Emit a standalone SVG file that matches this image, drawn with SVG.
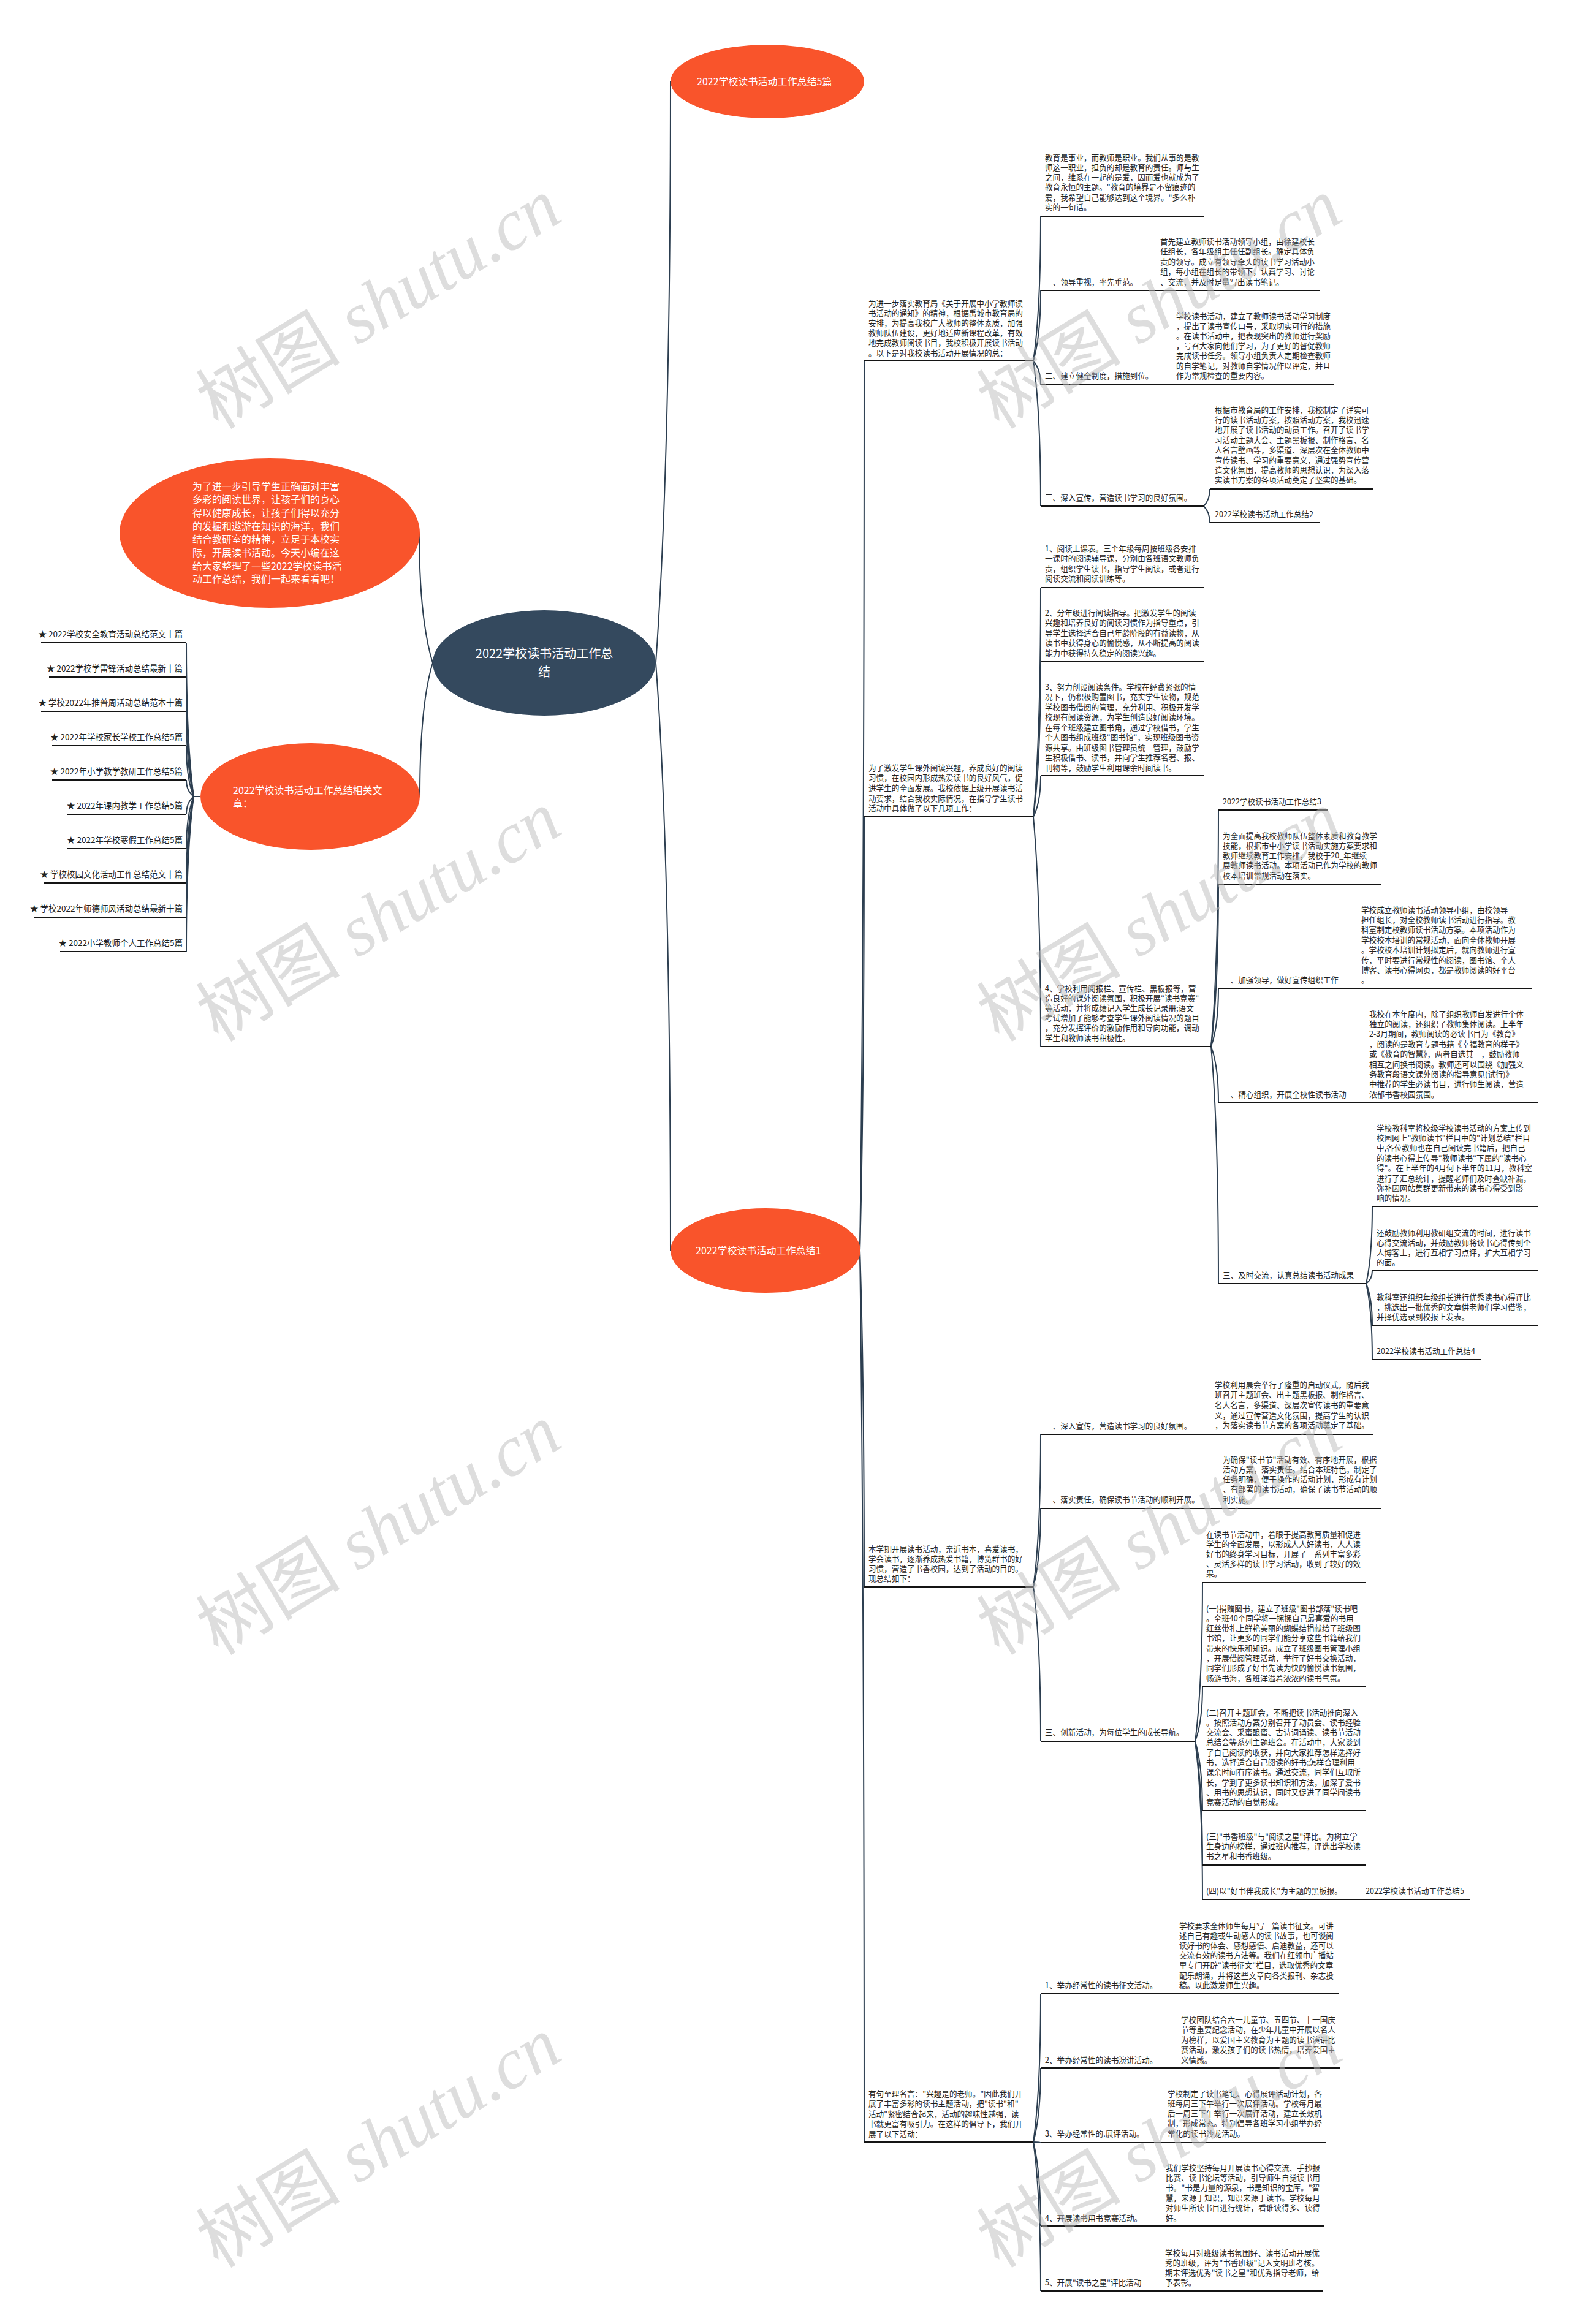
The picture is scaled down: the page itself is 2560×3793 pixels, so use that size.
<svg xmlns="http://www.w3.org/2000/svg" width="2560" height="3793" viewBox="0 0 2560 3793">
<style>
.t{font-family:"Noto Sans CJK SC","Noto Sans",sans-serif;font-size:12.6px;fill:#222}
.li{font-family:"Noto Sans CJK SC","Noto Sans",sans-serif;font-size:13.5px;fill:#222}
.w{font-family:"Noto Sans CJK SC","Noto Sans",sans-serif;fill:#fff}
.ul{stroke:#141414;stroke-width:2;fill:none}
.cn{stroke:#2c3e50;stroke-width:2;fill:none}
.ob{fill:#f9542b}
.wm{fill:#bdbdbd;opacity:0.5}
</style>
<defs>
<g id="wmk"><text class="wm" font-size="118"><tspan font-family="Noto Sans CJK SC,sans-serif">树图</tspan><tspan font-family="Liberation Serif,serif" font-style="italic"> shutu.cn</tspan></text></g>
</defs>
<rect width="2560" height="3793" fill="#fff"/>

<g id="connectors">
<path class="cn" d="M1070,1082 Q1094,750 1094,133"/>
<path class="cn" d="M1070,1082 Q1094,1400 1094,2041"/>
<path class="cn" d="M706,1082 Q684,1010 684,870"/>
<path class="cn" d="M706,1082 Q685,1150 685,1300"/>
<path class="cn" d="M327,1300 L316,1300"/>
<path class="cn" d="M316,1300 Q304,1212 304,1049"/>
<path class="cn" d="M316,1300 Q304,1232 304,1105"/>
<path class="cn" d="M316,1300 Q304,1252 304,1161"/>
<path class="cn" d="M316,1300 Q304,1271 304,1217"/>
<path class="cn" d="M316,1300 Q304,1291 304,1273"/>
<path class="cn" d="M316,1300 Q304,1310 304,1329"/>
<path class="cn" d="M316,1300 Q304,1330 304,1385"/>
<path class="cn" d="M316,1300 Q304,1350 304,1441"/>
<path class="cn" d="M316,1300 Q304,1369 304,1497"/>
<path class="cn" d="M316,1300 Q304,1389 304,1553"/>
<path class="cn" d="M1403,2041 Q1410,1530 1410,589"/>
<path class="cn" d="M1403,2041 Q1410,1790 1410,1333"/>
<path class="cn" d="M1403,2041 Q1410,2240 1410,2590"/>
<path class="cn" d="M1403,2041 Q1410,2560 1410,3496"/>
<path class="cn" d="M1686,589 Q1698,506 1698,353"/>
<path class="cn" d="M1686,589 Q1698,548 1698,474"/>
<path class="cn" d="M1686,589 Q1698,603 1698,628"/>
<path class="cn" d="M1686,589 Q1698,672 1698,826"/>
<path class="cn" d="M1964,826 Q1974,816 1974,798"/>
<path class="cn" d="M1964,826 Q1974,836 1974,853"/>
<path class="cn" d="M1686,1333 Q1698,1202 1698,959"/>
<path class="cn" d="M1686,1333 Q1698,1245 1698,1080"/>
<path class="cn" d="M1686,1333 Q1698,1310 1698,1266"/>
<path class="cn" d="M1686,1333 Q1698,1465 1698,1708"/>
<path class="cn" d="M1976,1708 Q1988,1573 1988,1322"/>
<path class="cn" d="M1976,1708 Q1988,1615 1988,1443"/>
<path class="cn" d="M1976,1708 Q1988,1675 1988,1613"/>
<path class="cn" d="M1976,1708 Q1988,1740 1988,1799"/>
<path class="cn" d="M1976,1708 Q1988,1842 1988,2095"/>
<path class="cn" d="M2229,2095 Q2239,2051 2239,1969"/>
<path class="cn" d="M2229,2095 Q2239,2088 2239,2074"/>
<path class="cn" d="M2229,2095 Q2239,2119 2239,2163"/>
<path class="cn" d="M2229,2095 Q2239,2138 2239,2219"/>
<path class="cn" d="M1686,2590 Q1698,2503 1698,2341"/>
<path class="cn" d="M1686,2590 Q1698,2545 1698,2462"/>
<path class="cn" d="M1686,2590 Q1698,2678 1698,2842"/>
<path class="cn" d="M1950,2842 Q1962,2751 1962,2583"/>
<path class="cn" d="M1950,2842 Q1962,2811 1962,2753"/>
<path class="cn" d="M1950,2842 Q1962,2881 1962,2955"/>
<path class="cn" d="M1950,2842 Q1962,2913 1962,3044"/>
<path class="cn" d="M1950,2842 Q1962,2932 1962,3100"/>
<path class="cn" d="M1686,3496 Q1698,3411 1698,3254"/>
<path class="cn" d="M1686,3496 Q1698,3453 1698,3375"/>
<path class="cn" d="M1686,3496 Q1698,3496 1698,3497"/>
<path class="cn" d="M1686,3496 Q1698,3544 1698,3633"/>
<path class="cn" d="M1686,3496 Q1698,3581 1698,3739"/>
</g>

<g id="root">
<ellipse cx="888" cy="1082" rx="182" ry="86" fill="#34495e"/>
<text class="w" font-size="20" text-anchor="middle" x="888" y="1074">2022学校读书活动工作总<tspan x="888" dy="30">结</tspan></text>
</g>

<g id="top-node">
<ellipse class="ob" cx="1252" cy="133" rx="158" ry="60"/>
<text class="w" font-size="16" x="1137" y="139">2022学校读书活动工作总结5篇</text>
</g>

<g id="node1">
<ellipse class="ob" cx="1249" cy="2041" rx="155" ry="69"/>
<text class="w" font-size="16" x="1135" y="2047">2022学校读书活动工作总结1</text>
</g>

<g id="intro">
<ellipse class="ob" cx="440" cy="870" rx="245" ry="122"/>
<text class="w" font-size="16" x="314" y="799.5"><tspan x="314" dy="0">为了进一步引导学生正确面对丰富</tspan><tspan x="314" dy="21.7">多彩的阅读世界，让孩子们的身心</tspan><tspan x="314" dy="21.7">得以健康成长，让孩子们得以充分</tspan><tspan x="314" dy="21.7">的发掘和遨游在知识的海洋，我们</tspan><tspan x="314" dy="21.7">结合教研室的精神，立足于本校实</tspan><tspan x="314" dy="21.7">际，开展读书活动。今天小编在这</tspan><tspan x="314" dy="21.7">给大家整理了一些2022学校读书活</tspan><tspan x="314" dy="21.7">动工作总结，我们一起来看看吧！</tspan></text>
</g>

<g id="related">
<ellipse class="ob" cx="506" cy="1300" rx="179" ry="87"/>
<text class="w" font-size="16" x="380" y="1295.5">2022学校读书活动工作总结相关文<tspan x="380" dy="21.5">章：</tspan></text>
</g>

<g id="related-list">
<text class="li" text-anchor="end" x="298" y="1039.5">★ 2022学校安全教育活动总结范文十篇</text>
<path class="ul" d="M67,1049 H304"/>
<text class="li" text-anchor="end" x="298" y="1095.5">★ 2022学校学雷锋活动总结最新十篇</text>
<path class="ul" d="M80,1105 H304"/>
<text class="li" text-anchor="end" x="298" y="1151.5">★ 学校2022年推普周活动总结范本十篇</text>
<path class="ul" d="M67,1161 H304"/>
<text class="li" text-anchor="end" x="298" y="1207.5">★ 2022年学校家长学校工作总结5篇</text>
<path class="ul" d="M85,1217 H304"/>
<text class="li" text-anchor="end" x="298" y="1263.5">★ 2022年小学教学教研工作总结5篇</text>
<path class="ul" d="M85,1273 H304"/>
<text class="li" text-anchor="end" x="298" y="1319.5">★ 2022年课内教学工作总结5篇</text>
<path class="ul" d="M110,1329 H304"/>
<text class="li" text-anchor="end" x="298" y="1375.5">★ 2022年学校寒假工作总结5篇</text>
<path class="ul" d="M110,1385 H304"/>
<text class="li" text-anchor="end" x="298" y="1431.5">★ 学校校园文化活动工作总结范文十篇</text>
<path class="ul" d="M72,1441 H304"/>
<text class="li" text-anchor="end" x="298" y="1487.5">★ 学校2022年师德师风活动总结最新十篇</text>
<path class="ul" d="M55,1497 H304"/>
<text class="li" text-anchor="end" x="298" y="1543.5">★ 2022小学教师个人工作总结5篇</text>
<path class="ul" d="M98,1553 H304"/>
</g>

<g id="A">
<text class="t" x="1417" y="499.5"><tspan x="1417" dy="0">为进一步落实教育局《关于开展中小学教师读</tspan><tspan x="1417" dy="16.2">书活动的通知》的精神，根据禹城市教育局的</tspan><tspan x="1417" dy="16.2">安排，为提高我校广大教师的整体素质，加强</tspan><tspan x="1417" dy="16.2">教师队伍建设，更好地适应新课程改革，有效</tspan><tspan x="1417" dy="16.2">地完成教师阅读书目，我校积极开展读书活动</tspan><tspan x="1417" dy="16.2">。以下是对我校读书活动开展情况的总：</tspan></text>
<path class="ul" d="M1410,589 H1686"/>
</g>
<g id="A0">
<text class="t" x="1705" y="261.5"><tspan x="1705" dy="0">教育是事业，而教师是职业。我们从事的是教</tspan><tspan x="1705" dy="16.3">师这一职业，担负的却是教育的责任。师与生</tspan><tspan x="1705" dy="16.3">之间，维系在一起的是爱，因而爱也就成为了</tspan><tspan x="1705" dy="16.3">教育永恒的主题。"教育的境界是不留痕迹的</tspan><tspan x="1705" dy="16.3">爱，我希望自己能够达到这个境界。"多么朴</tspan><tspan x="1705" dy="16.3">实的一句话。</tspan></text>
<path class="ul" d="M1698,353 H1964"/>
</g>
<g id="A1">
<text class="t" x="1705" y="464.5">一、领导重视，率先垂范。</text>
<text class="t" x="1893" y="398.5"><tspan x="1893" dy="0">首先建立教师读书活动领导小组，由徐建校长</tspan><tspan x="1893" dy="16.5">任组长，各年级组主任任副组长。确定具体负</tspan><tspan x="1893" dy="16.5">责的领导。成立有领导牵头的读书学习活动小</tspan><tspan x="1893" dy="16.5">组，每小组在组长的带领下，认真学习、讨论</tspan><tspan x="1893" dy="16.5">、交流，并及时足量写出读书笔记。</tspan></text>
<path class="ul" d="M1698,474 H2153"/>
</g>
<g id="A2">
<text class="t" x="1705" y="617.5">二、建立健全制度，措施到位。</text>
<text class="t" x="1919" y="520.5"><tspan x="1919" dy="0">学校读书活动，建立了教师读书活动学习制度</tspan><tspan x="1919" dy="16.2">，提出了读书宣传口号，采取切实可行的措施</tspan><tspan x="1919" dy="16.2">。在读书活动中，把表现突出的教师进行奖励</tspan><tspan x="1919" dy="16.2">，号召大家向他们学习，为了更好的督促教师</tspan><tspan x="1919" dy="16.2">完成读书任务。领导小组负责人定期检查教师</tspan><tspan x="1919" dy="16.2">的自学笔记，对教师自学情况作以评定，并且</tspan><tspan x="1919" dy="16.2">作为常规检查的重要内容。</tspan></text>
<path class="ul" d="M1698,628 H2177"/>
</g>
<g id="A3">
<text class="t" x="1705" y="816.5">三、深入宣传，营造读书学习的良好氛围。</text>
<path class="ul" d="M1698,826 H1964"/>
</g>
<g id="A3a">
<text class="t" x="1982" y="673.5"><tspan x="1982" dy="0">根据市教育局的工作安排，我校制定了详实可</tspan><tspan x="1982" dy="16.4">行的读书活动方案，按照活动方案，我校迅速</tspan><tspan x="1982" dy="16.4">地开展了读书活动的动员工作。召开了读书学</tspan><tspan x="1982" dy="16.4">习活动主题大会、主题黑板报、制作格言、名</tspan><tspan x="1982" dy="16.4">人名言壁画等，多渠道、深层次在全体教师中</tspan><tspan x="1982" dy="16.4">宣传读书、学习的重要意义，通过强势宣传营</tspan><tspan x="1982" dy="16.4">造文化氛围，提高教师的思想认识，为深入落</tspan><tspan x="1982" dy="16.4">实读书方案的各项活动奠定了坚实的基础。</tspan></text>
<path class="ul" d="M1974,798 H2241"/>
</g>
<g id="A3b">
<text class="t" x="1982" y="843.5">2022学校读书活动工作总结2</text>
<path class="ul" d="M1974,853 H2153"/>
</g>

<g id="B">
<text class="t" x="1417" y="1257.5"><tspan x="1417" dy="0">为了激发学生课外阅读兴趣，养成良好的阅读</tspan><tspan x="1417" dy="16.7">习惯，在校园内形成热爱读书的良好风气，促</tspan><tspan x="1417" dy="16.7">进学生的全面发展。我校依据上级开展读书活</tspan><tspan x="1417" dy="16.7">动要求，结合我校实际情况，在指导学生读书</tspan><tspan x="1417" dy="16.7">活动中具体做了以下几项工作：</tspan></text>
<path class="ul" d="M1410,1333 H1686"/>
</g>
<g id="B1">
<text class="t" x="1705" y="899.5"><tspan x="1705" dy="0">1、阅读上课表。三个年级每周按班级各安排</tspan><tspan x="1705" dy="16.5">一课时的阅读辅导课，分别由各班语文教师负</tspan><tspan x="1705" dy="16.5">责，组织学生读书，指导学生阅读，或者进行</tspan><tspan x="1705" dy="16.5">阅读交流和阅读训练等。</tspan></text>
<path class="ul" d="M1698,959 H1964"/>
</g>
<g id="B2">
<text class="t" x="1705" y="1004.5"><tspan x="1705" dy="0">2、分年级进行阅读指导。把激发学生的阅读</tspan><tspan x="1705" dy="16.5">兴趣和培养良好的阅读习惯作为指导重点，引</tspan><tspan x="1705" dy="16.5">导学生选择适合自己年龄阶段的有益读物，从</tspan><tspan x="1705" dy="16.5">读书中获得身心的愉悦感，从不断提高的阅读</tspan><tspan x="1705" dy="16.5">能力中获得持久稳定的阅读兴趣。</tspan></text>
<path class="ul" d="M1698,1080 H1964"/>
</g>
<g id="B3">
<text class="t" x="1705" y="1125.5"><tspan x="1705" dy="0">3、努力创设阅读条件。学校在经费紧张的情</tspan><tspan x="1705" dy="16.5">况下，仍积极购置图书，充实学生读物，规范</tspan><tspan x="1705" dy="16.5">学校图书借阅的管理，充分利用、积极开发学</tspan><tspan x="1705" dy="16.5">校现有阅读资源，为学生创造良好阅读环境。</tspan><tspan x="1705" dy="16.5">在每个班级建立图书角，通过学校借书，学生</tspan><tspan x="1705" dy="16.5">个人图书组成班级"图书馆"，实现班级图书资</tspan><tspan x="1705" dy="16.5">源共享。由班级图书管理员统一管理，鼓励学</tspan><tspan x="1705" dy="16.5">生积极借书、读书，并向学生推荐名著、报、</tspan><tspan x="1705" dy="16.5">刊物等，鼓励学生利用课余时间读书。</tspan></text>
<path class="ul" d="M1698,1266 H1964"/>
</g>
<g id="B4">
<text class="t" x="1705" y="1617.5"><tspan x="1705" dy="0">4、学校利用阅报栏、宣传栏、黑板报等，营</tspan><tspan x="1705" dy="16.2">造良好的课外阅读氛围，积极开展"读书竞赛"</tspan><tspan x="1705" dy="16.2">等活动，并将成绩记入学生成长记录册;语文</tspan><tspan x="1705" dy="16.2">考试增加了能够考查学生课外阅读情况的题目</tspan><tspan x="1705" dy="16.2">，充分发挥评价的激励作用和导向功能，调动</tspan><tspan x="1705" dy="16.2">学生和教师读书积极性。</tspan></text>
<path class="ul" d="M1698,1708 H1976"/>
</g>
<g id="S3">
<text class="t" x="1995" y="1312.5">2022学校读书活动工作总结3</text>
<path class="ul" d="M1988,1322 H2166"/>
</g>
<g id="T3">
<text class="t" x="1995" y="1368.5"><tspan x="1995" dy="0">为全面提高我校教师队伍整体素质和教育教学</tspan><tspan x="1995" dy="16.25">技能，根据市中小学读书活动实施方案要求和</tspan><tspan x="1995" dy="16.25">教师继续教育工作安排，我校于20_年继续</tspan><tspan x="1995" dy="16.25">展教师读书活动。本项活动已作为学校的教师</tspan><tspan x="1995" dy="16.25">校本培训常规活动在落实。</tspan></text>
<path class="ul" d="M1988,1443 H2254"/>
</g>
<g id="L1">
<text class="t" x="1995" y="1603.5">一、加强领导，做好宣传组织工作</text>
<text class="t" x="2221" y="1489.5"><tspan x="2221" dy="0">学校成立教师读书活动领导小组，由校领导</tspan><tspan x="2221" dy="16.4">担任组长，对全校教师读书活动进行指导。教</tspan><tspan x="2221" dy="16.4">科室制定校教师读书活动方案。本项活动作为</tspan><tspan x="2221" dy="16.4">学校校本培训的常规活动，面向全体教师开展</tspan><tspan x="2221" dy="16.4">。学校校本培训计划拟定后，就向教师进行宣</tspan><tspan x="2221" dy="16.4">传，平时要进行常规性的阅读，图书馆、个人</tspan><tspan x="2221" dy="16.4">博客、读书心得网页，都是教师阅读的好平台</tspan><tspan x="2221" dy="16.4">。</tspan></text>
<path class="ul" d="M1988,1613 H2500"/>
</g>
<g id="L2">
<text class="t" x="1995" y="1790.5">二、精心组织，开展全校性读书活动</text>
<text class="t" x="2234" y="1659.5"><tspan x="2234" dy="0">我校在本年度内，除了组织教师自发进行个体</tspan><tspan x="2234" dy="16.4">独立的阅读，还组织了教师集体阅读。上半年</tspan><tspan x="2234" dy="16.4">2-3月期间，教师阅读的必读书目为《教育》</tspan><tspan x="2234" dy="16.4">，阅读的是教育专题书籍《幸福教育的样子》</tspan><tspan x="2234" dy="16.4">或《教育的智慧》，两者自选其一，鼓励教师</tspan><tspan x="2234" dy="16.4">相互之间换书阅读。教师还可以围绕《加强义</tspan><tspan x="2234" dy="16.4">务教育段语文课外阅读的指导意见(试行)》</tspan><tspan x="2234" dy="16.4">中推荐的学生必读书目，进行师生阅读，营造</tspan><tspan x="2234" dy="16.4">浓郁书香校园氛围。</tspan></text>
<path class="ul" d="M1988,1799 H2510"/>
</g>
<g id="L3">
<text class="t" x="1995" y="2085.5">三、及时交流，认真总结读书活动成果</text>
<path class="ul" d="M1988,2095 H2229"/>
</g>
<g id="L3a">
<text class="t" x="2246" y="1845.5"><tspan x="2246" dy="0">学校教科室将校级学校读书活动的方案上传到</tspan><tspan x="2246" dy="16.4">校园网上"教师读书"栏目中的"计划总结"栏目</tspan><tspan x="2246" dy="16.4">中,各位教师也在自己阅读完书籍后，把自己</tspan><tspan x="2246" dy="16.4">的读书心得上传导"教师读书"下属的"读书心</tspan><tspan x="2246" dy="16.4">得"。在上半年的4月何下半年的11月，教科室</tspan><tspan x="2246" dy="16.4">进行了汇总统计，提醒老师们及时查缺补漏，</tspan><tspan x="2246" dy="16.4">弥补因网站集群更新带来的读书心得受到影</tspan><tspan x="2246" dy="16.4">响的情况。</tspan></text>
<path class="ul" d="M2239,1969 H2510"/>
</g>
<g id="L3b">
<text class="t" x="2246" y="2016.5"><tspan x="2246" dy="0">还鼓励教师利用教研组交流的时间，进行读书</tspan><tspan x="2246" dy="16.2">心得交流活动，并鼓励教师将读书心得传到个</tspan><tspan x="2246" dy="16.2">人博客上，进行互相学习点评，扩大互相学习</tspan><tspan x="2246" dy="16.2">的面。</tspan></text>
<path class="ul" d="M2239,2074 H2510"/>
</g>
<g id="L3c">
<text class="t" x="2246" y="2121.5"><tspan x="2246" dy="0">教科室还组织年级组长进行优秀读书心得评比</tspan><tspan x="2246" dy="16.2">，挑选出一批优秀的文章供老师们学习借鉴，</tspan><tspan x="2246" dy="16.2">并择优选录到校报上发表。</tspan></text>
<path class="ul" d="M2239,2163 H2510"/>
</g>
<g id="S4">
<text class="t" x="2246" y="2209.5">2022学校读书活动工作总结4</text>
<path class="ul" d="M2239,2219 H2417"/>
</g>

<g id="C">
<text class="t" x="1417" y="2532.5"><tspan x="1417" dy="0">本学期开展读书活动，亲近书本，喜爱读书，</tspan><tspan x="1417" dy="16.3">学会读书，逐渐养成热爱书籍，博览群书的好</tspan><tspan x="1417" dy="16.3">习惯，营造了书香校园，达到了活动的目的。</tspan><tspan x="1417" dy="16.3">现总结如下：</tspan></text>
<path class="ul" d="M1410,2590 H1686"/>
</g>
<g id="C1">
<text class="t" x="1705" y="2331.5">一、深入宣传，营造读书学习的良好氛围。</text>
<text class="t" x="1982" y="2264.5"><tspan x="1982" dy="0">学校利用晨会举行了隆重的启动仪式，随后我</tspan><tspan x="1982" dy="16.7">班召开主题班会、出主题黑板报、制作格言、</tspan><tspan x="1982" dy="16.7">名人名言，多渠道、深层次宣传读书的重要意</tspan><tspan x="1982" dy="16.7">义，通过宣传营造文化氛围，提高学生的认识</tspan><tspan x="1982" dy="16.7">，为落实读书节方案的各项活动奠定了基础。</tspan></text>
<path class="ul" d="M1698,2341 H2241"/>
</g>
<g id="C2">
<text class="t" x="1705" y="2451.5">二、落实责任，确保读书节活动的顺利开展。</text>
<text class="t" x="1995" y="2386.5"><tspan x="1995" dy="0">为确保"读书节"活动有效、有序地开展，根据</tspan><tspan x="1995" dy="16.25">活动方案，落实责任。结合本班特色，制定了</tspan><tspan x="1995" dy="16.25">任务明确，便于操作的活动计划，形成有计划</tspan><tspan x="1995" dy="16.25">、有部署的读书活动，确保了读书节活动的顺</tspan><tspan x="1995" dy="16.25">利实施。</tspan></text>
<path class="ul" d="M1698,2462 H2254"/>
</g>
<g id="C3">
<text class="t" x="1705" y="2831.5">三、创新活动，为每位学生的成长导航。</text>
<path class="ul" d="M1698,2842 H1950"/>
</g>
<g id="C3a">
<text class="t" x="1968" y="2508.5"><tspan x="1968" dy="0">在读书节活动中，着眼于提高教育质量和促进</tspan><tspan x="1968" dy="16">学生的全面发展，以形成人人好读书，人人读</tspan><tspan x="1968" dy="16">好书的终身学习目标，开展了一系列丰富多彩</tspan><tspan x="1968" dy="16">、灵活多样的读书学习活动，收到了较好的效</tspan><tspan x="1968" dy="16">果。</tspan></text>
<path class="ul" d="M1962,2583 H2229"/>
</g>
<g id="C3b">
<text class="t" x="1968" y="2629.5"><tspan x="1968" dy="0">(一)捐赠图书，建立了班级"图书部落"读书吧</tspan><tspan x="1968" dy="16.3">。全班40个同学将一摞摞自己最喜爱的书用</tspan><tspan x="1968" dy="16.3">红丝带扎上鲜艳美丽的蝴蝶结捐献给了班级图</tspan><tspan x="1968" dy="16.3">书馆，让更多的同学们能分享这些书籍给我们</tspan><tspan x="1968" dy="16.3">带来的快乐和知识。成立了班级图书管理小组</tspan><tspan x="1968" dy="16.3">，开展借阅管理活动，举行了好书交换活动，</tspan><tspan x="1968" dy="16.3">同学们形成了好书先读为快的愉悦读书氛围，</tspan><tspan x="1968" dy="16.3">畅游书海，各班洋溢着浓浓的读书气氛。</tspan></text>
<path class="ul" d="M1962,2753 H2229"/>
</g>
<g id="C3c">
<text class="t" x="1968" y="2799.5"><tspan x="1968" dy="0">(二)召开主题班会，不断把读书活动推向深入</tspan><tspan x="1968" dy="16.3">。按照活动方案分别召开了动员会、读书经验</tspan><tspan x="1968" dy="16.3">交流会、采蜜酿蜜、古诗词诵读、读书节活动</tspan><tspan x="1968" dy="16.3">总结会等系列主题班会。在活动中，大家谈到</tspan><tspan x="1968" dy="16.3">了自己阅读的收获，并向大家推荐怎样选择好</tspan><tspan x="1968" dy="16.3">书，选择适合自己阅读的好书;怎样合理利用</tspan><tspan x="1968" dy="16.3">课余时间有序读书。通过交流，同学们互取所</tspan><tspan x="1968" dy="16.3">长，学到了更多读书知识和方法，加深了爱书</tspan><tspan x="1968" dy="16.3">、用书的思想认识，同时又促进了同学间读书</tspan><tspan x="1968" dy="16.3">竞赛活动的自觉形成。</tspan></text>
<path class="ul" d="M1962,2955 H2229"/>
</g>
<g id="C3d">
<text class="t" x="1968" y="3001.5"><tspan x="1968" dy="0">(三)"书香班级"与"阅读之星"评比。为树立学</tspan><tspan x="1968" dy="16.3">生身边的榜样，通过班内推荐，评选出学校读</tspan><tspan x="1968" dy="16.3">书之星和书香班级。</tspan></text>
<path class="ul" d="M1962,3044 H2229"/>
</g>
<g id="C3e">
<text class="t" x="1968" y="3090.5">(四)以"好书伴我成长"为主题的黑板报。</text>
<text class="t" x="2228" y="3090.5">2022学校读书活动工作总结5</text>
<path class="ul" d="M1962,3100 H2398"/>
</g>

<g id="D">
<text class="t" x="1417" y="3421.5"><tspan x="1417" dy="0">有句至理名言："兴趣是的老师。"因此我们开</tspan><tspan x="1417" dy="16.5">展了丰富多彩的读书主题活动，把"读书"和"</tspan><tspan x="1417" dy="16.5">活动"紧密结合起来，活动的趣味性越强，读</tspan><tspan x="1417" dy="16.5">书就更富有吸引力。在这样的倡导下，我们开</tspan><tspan x="1417" dy="16.5">展了以下活动：</tspan></text>
<path class="ul" d="M1410,3496 H1686"/>
</g>
<g id="D1">
<text class="t" x="1705" y="3244.5">1、举办经常性的读书征文活动。</text>
<text class="t" x="1924" y="3147.5"><tspan x="1924" dy="0">学校要求全体师生每月写一篇读书征文。可讲</tspan><tspan x="1924" dy="16.2">述自己有趣或生动感人的读书故事，也可谈阅</tspan><tspan x="1924" dy="16.2">读好书的体会、感想感悟、启迪教益，还可以</tspan><tspan x="1924" dy="16.2">交流有效的读书方法等。我们在红领巾广播站</tspan><tspan x="1924" dy="16.2">里专门开辟"读书征文"栏目，选取优秀的文章</tspan><tspan x="1924" dy="16.2">配乐朗诵，并将这些文章向各类报刊、杂志投</tspan><tspan x="1924" dy="16.2">稿。以此激发师生兴趣。</tspan></text>
<path class="ul" d="M1698,3254 H2184"/>
</g>
<g id="D2">
<text class="t" x="1705" y="3366.5">2、举办经常性的读书演讲活动。</text>
<text class="t" x="1927" y="3300.5"><tspan x="1927" dy="0">学校团队结合六一儿童节、五四节、十一国庆</tspan><tspan x="1927" dy="16.5">节等重要纪念活动，在少年儿童中开展以名人</tspan><tspan x="1927" dy="16.5">为榜样，以爱国主义教育为主题的读书演讲比</tspan><tspan x="1927" dy="16.5">赛活动，激发孩子们的读书热情，培养爱国主</tspan><tspan x="1927" dy="16.5">义情感。</tspan></text>
<path class="ul" d="M1698,3375 H2186"/>
</g>
<g id="D3">
<text class="t" x="1705" y="3486.5">3、举办经常性的.展评活动。</text>
<text class="t" x="1905" y="3421.5"><tspan x="1905" dy="0">学校制定了读书笔记、心得展评活动计划，各</tspan><tspan x="1905" dy="16.25">班每周三下午举行一次展评活动。学校每月最</tspan><tspan x="1905" dy="16.25">后一周三下午举行一次展评活动，建立长效机</tspan><tspan x="1905" dy="16.25">制，形成常态。特别倡导各班学习小组举办经</tspan><tspan x="1905" dy="16.25">常化的读书沙龙活动。</tspan></text>
<path class="ul" d="M1698,3497 H2164"/>
</g>
<g id="D4">
<text class="t" x="1705" y="3624.5">4、开展读书用书竞赛活动。</text>
<text class="t" x="1902" y="3542.5"><tspan x="1902" dy="0">我们学校坚持每月开展读书心得交流、手抄报</tspan><tspan x="1902" dy="16.4">比赛、读书论坛等活动，引导师生自觉读书用</tspan><tspan x="1902" dy="16.4">书。"书是力量的源泉，书是知识的宝库。"智</tspan><tspan x="1902" dy="16.4">慧，来源于知识，知识来源于读书。学校每月</tspan><tspan x="1902" dy="16.4">对师生所读书目进行统计，看谁读得多、读得</tspan><tspan x="1902" dy="16.4">好。</tspan></text>
<path class="ul" d="M1698,3633 H2161"/>
</g>
<g id="D5">
<text class="t" x="1705" y="3729.5">5、开展"读书之星"评比活动</text>
<text class="t" x="1901" y="3681.5"><tspan x="1901" dy="0">学校每月对班级读书氛围好、读书活动开展优</tspan><tspan x="1901" dy="16">秀的班级，评为"书香班级"记入文明班考核。</tspan><tspan x="1901" dy="16">期末评选优秀"读书之星"和优秀指导老师，给</tspan><tspan x="1901" dy="16">予表彰。</tspan></text>
<path class="ul" d="M1698,3739 H2158"/>
</g>

<g id="watermarks">
<use href="#wmk" transform="translate(356,702) rotate(-31.3)"/>
<use href="#wmk" transform="translate(1630,702) rotate(-31.3)"/>
<use href="#wmk" transform="translate(356,1702) rotate(-31.3)"/>
<use href="#wmk" transform="translate(1630,1702) rotate(-31.3)"/>
<use href="#wmk" transform="translate(356,2703) rotate(-31.3)"/>
<use href="#wmk" transform="translate(1630,2703) rotate(-31.3)"/>
<use href="#wmk" transform="translate(356,3703) rotate(-31.3)"/>
<use href="#wmk" transform="translate(1630,3703) rotate(-31.3)"/>
</g>
</svg>
